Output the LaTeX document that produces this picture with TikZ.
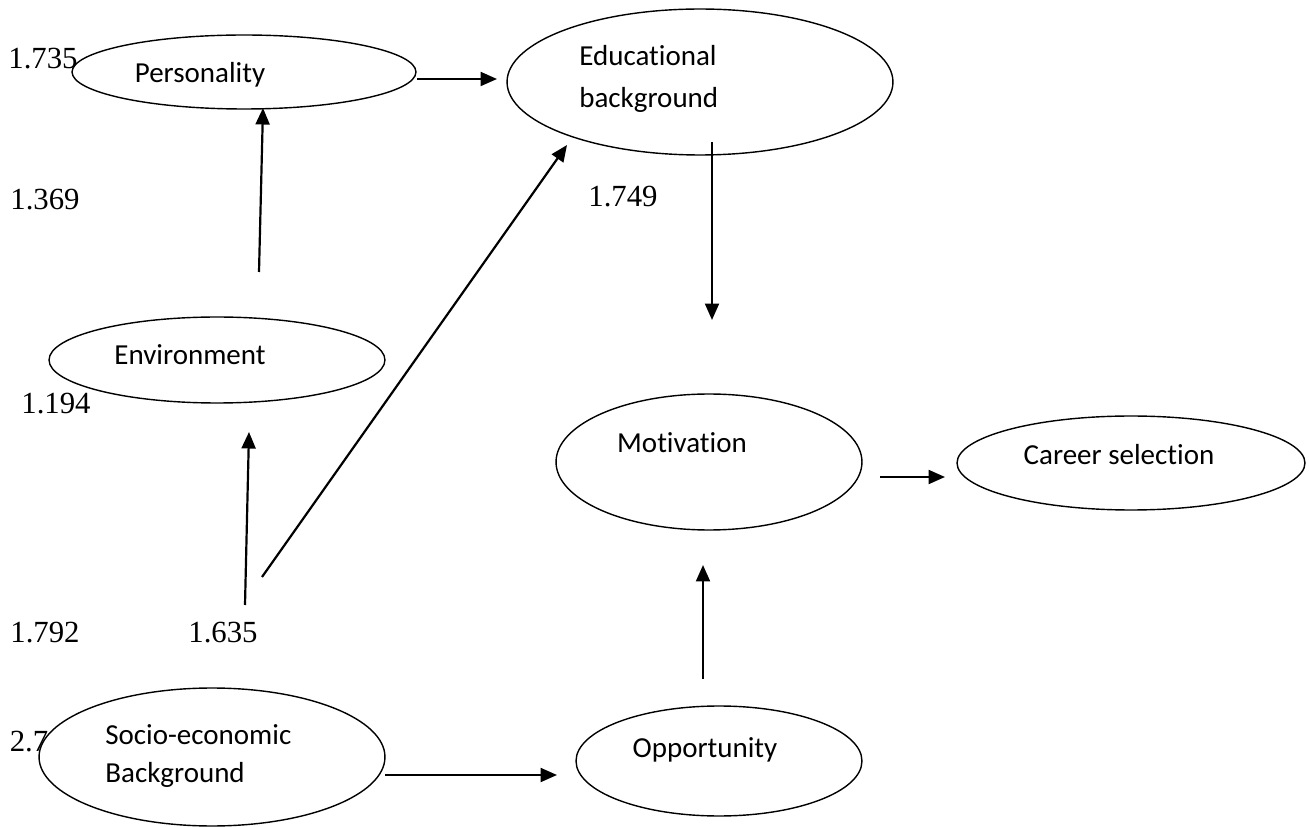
\documentclass[tikz,border=0pt]{standalone}
\usepackage{fontspec}
\setmainfont{Liberation Serif}
\newfontfamily\calibri[Ligatures=NoCommon]{Carlito}
\usetikzlibrary{shapes.geometric,arrows.meta}

\begin{document}
\begin{tikzpicture}[
    x=0.02cm, y=-0.02cm,   % Unidades: un pixel de la figura
    elipse/.style={draw, ellipse, fill=white, line width=0.8pt, inner sep=0pt}, % Variables
    texto/.style={font=\calibri\fontsize{16.5}{23.8}\selectfont, inner sep=0pt, align=left}, % Nombres
    valor/.style={font=\fontsize{17.5}{20}\selectfont, inner sep=0pt}, % Coeficientes
    flecha/.style={-{Triangle[length=0.33cm,width=0.28cm]}, line width=1.25pt}, % Relaciones
]
\useasboundingbox (0,0) rectangle (1309,827);

% --- Coeficiente tapado por la elipse ---
\node[valor] (vSocio) at (29,742) {2.7};

% --- Variables (elipses) ---
\node[elipse, minimum width=6.88cm, minimum height=1.48cm] (pers) at (244,72) {};
\node[elipse, minimum width=7.72cm, minimum height=2.92cm] (edu) at (700,82) {};
\node[elipse, minimum width=6.72cm, minimum height=1.72cm] (env) at (217,360) {};
\node[elipse, minimum width=6.12cm, minimum height=2.72cm] (mot) at (709,462) {};
\node[elipse, minimum width=6.96cm, minimum height=1.88cm] (career) at (1131,463) {};
\node[elipse, minimum width=5.72cm, minimum height=2.20cm] (opp) at (719,761) {};
\node[elipse, minimum width=6.92cm, minimum height=2.76cm] (socio) at (212,757) {};

% --- Nombres de las variables ---
\node[texto] (persT) at (200,75) {Personality};
\node[texto, anchor=west] (eduT) at (579,79) {Educational\\background};
\node[texto] (envT) at (190,355) {Environment};
\node[texto] (motT) at (682,443) {Motivation};
\node[texto] (careerT) at (1119,455) {Career selection};
\node[texto] (oppT) at (705,750) {Opportunity};
\node[texto, anchor=west, font=\calibri\fontsize{16.5}{21.5}\selectfont] (socioT) at (105,756) {Socio-economic\\Background};

% --- Coeficientes ---
\node[valor] (vPers) at (43,59) {1.735};
\node[valor] (vEnvA) at (45,200) {1.369};
\node[valor] (vEdu) at (623,197) {1.749};
\node[valor] (vEnvB) at (56,404) {1.194};
\node[valor] (vSocA) at (45,633) {1.792};
\node[valor] (vSocB) at (223,633) {1.635};

% --- Extremos de las flechas ---
\coordinate (persR) at (417,79);
\coordinate (eduL) at (497,79);
\coordinate (envUp) at (259,272);
\coordinate (persB) at (263,108);
\coordinate (socUp) at (245,605);
\coordinate (envB) at (249,432);
\coordinate (socDiag) at (262,577);
\coordinate (eduB) at (567,145);
\coordinate (eduDown) at (712,142);
\coordinate (motUp) at (712,320);
\coordinate (motR) at (880,477);
\coordinate (careerL) at (945,477);
\coordinate (oppUp) at (703,679);
\coordinate (motB) at (703,565);
\coordinate (socR) at (385,775);
\coordinate (oppL) at (557,775);

% --- Relaciones ---
\draw[flecha] (persR) -- (eduL);
\draw[flecha] (envUp) -- (persB);
\draw[flecha] (socUp) -- (envB);
\draw[flecha] (socDiag) -- (eduB);
\draw[flecha] (eduDown) -- (motUp);
\draw[flecha] (motR) -- (careerL);
\draw[flecha] (oppUp) -- (motB);
\draw[flecha] (socR) -- (oppL);

\end{tikzpicture}
\end{document}
